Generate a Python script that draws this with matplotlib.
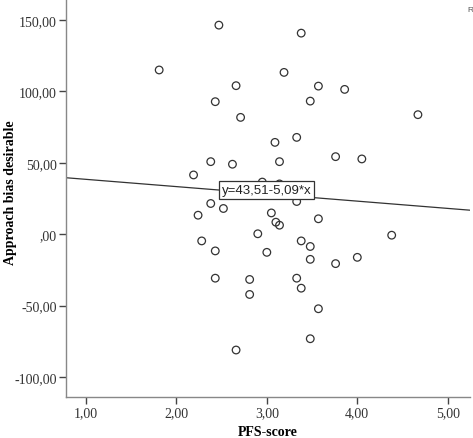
import numpy as np
import matplotlib
matplotlib.use('Agg')
import matplotlib.pyplot as plt

# PFS-score vs approach bias desirable
pfs = [1.81, 2.47, 2.66, 2.43, 2.71, 2.38, 2.62, 2.19, 2.38, 2.52, 2.24,
       3.38, 3.19, 3.57, 3.86, 3.48, 4.67, 3.09, 3.33, 3.14, 3.76, 4.05,
       2.95, 3.14, 3.33, 3.05, 3.57, 3.10, 3.14, 2.90, 2.28, 2.43, 3.00,
       3.38, 3.48, 3.48, 3.76, 4.00, 4.38, 2.81, 3.33, 3.38, 2.81, 3.57,
       3.48, 2.66, 2.43]
bias = [115.0, 146.4, 104.0, 92.8, 81.8, 50.8, 49.0, 41.5, 21.5, 18.0, 13.3,
        140.8, 113.3, 103.7, 101.4, 93.2, 83.7, 64.3, 67.8, 50.8, 54.3, 52.7,
        36.5, 35.2, 22.9, 14.9, 10.8, 8.4, 6.3, 0.3, -4.7, -11.7, -12.7,
        -4.7, -8.6, -17.6, -20.6, -16.2, -0.7, -31.7, -30.8, -37.8, -42.2, -52.2,
        -73.2, -81.1, -30.8]

intercept = 43.51
slope = -5.09

xticks = [1, 2, 3, 4, 5]
yticks = [-100, -50, 0, 50, 100, 150]


def fmt(v):
    s = '%.2f' % v
    if s.startswith('0'):
        s = s[1:]
    return s.replace('.', ',')


fig = plt.figure(figsize=(4.73, 4.39), dpi=100)
ax = fig.add_axes([0.1395, 0.0934, 0.855, 0.9066])

ax.scatter(pfs, bias, s=30, facecolors='none', edgecolors='#333333', linewidths=0.9, zorder=3)

xl = (0.78, 5.25)
xs = np.array(xl)
ax.plot(xs, intercept + slope * xs, color='#333333', lw=0.9, zorder=2)

ax.text(3.0, 31, 'y=43,51-5,09*x', family='Liberation Sans', fontsize=9.5,
        ha='center', va='center', color='#222222', zorder=4,
        bbox=dict(boxstyle='square,pad=0.2', fc='white', ec='#333333', lw=0.9))

ax.set_xlim(*xl)
ax.set_ylim(-114, 164.7)
ax.set_xticks(xticks)
ax.set_xticklabels([fmt(v) for v in xticks])
ax.set_yticks(yticks)
ax.set_yticklabels([fmt(v) for v in yticks])

for side in ['top', 'right']:
    ax.spines[side].set_visible(False)
for side in ['left', 'bottom']:
    ax.spines[side].set_color('#888888')
    ax.spines[side].set_linewidth(1.0)

ax.tick_params(direction='out', length=5, width=1.0, color='#444444',
               labelsize=10, labelcolor='#333333', pad=1.5)
for lab in ax.get_xticklabels() + ax.get_yticklabels():
    lab.set_family('Liberation Serif')

ax.set_xlabel('PFS-score', family='Liberation Serif', fontweight='bold', fontsize=10)
ax.set_ylabel('Approach bias desirable', family='Liberation Serif', fontweight='bold', fontsize=10)
ax.xaxis.set_label_coords(0.5, -0.07)
ax.yaxis.set_label_coords(-0.122, 0.515)

# cut-off fit statistic at the right edge
fig.text(0.989, 0.975, 'R', family='Liberation Sans', fontsize=6,
         color='#555555', ha='left', va='center')

fig.savefig('out.png', dpi=100)
